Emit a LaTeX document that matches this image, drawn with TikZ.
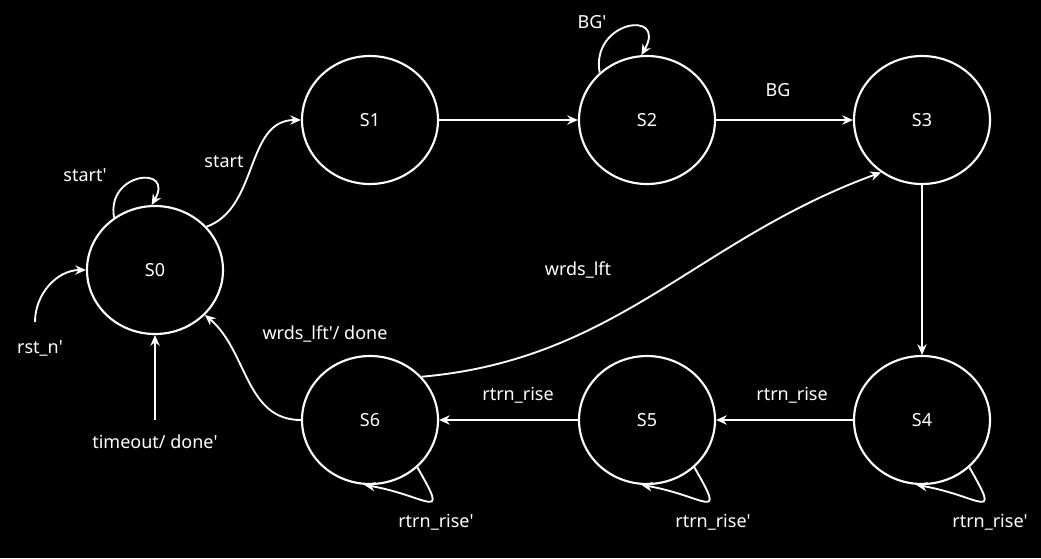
\documentclass[tikz,border=0pt]{standalone}
\usepackage{fontspec}
\setmainfont{Noto Sans}
\usetikzlibrary{arrows.meta,positioning,shapes.geometric}
\newlength{\px}\setlength{\px}{0.75pt}
\newcommand{\q}{\textquotesingle}
\tikzset{
  state/.style={draw=white,line width=1.6pt,ellipse,minimum width=136\px,minimum height=128\px,text=white},
  trans/.style={draw=white,line width=1.4pt,-{Stealth[length=8pt,width=7pt]}},
  lbl/.style={text=white}
}
\begin{document}
\begin{tikzpicture}[x=0.75pt,y=-0.75pt,font=\fontsize{13.5}{16}\selectfont]
\fill[black] (0,0) rectangle (1041,558);
\useasboundingbox (0,0) rectangle (1041,558);
% states
\node[state] (s0) at (155,270) {S0};
\node[state] (s1) at (370,120) {S1};
\node[state] (s2) at (647,120) {S2};
\node[state] (s3) at (922,120) {S3};
\node[state] (s4) at (922,420) {S4};
\node[state] (s5) at (647,420) {S5};
\node[state] (s6) at (370,420) {S6};
% free ends
\coordinate (rst) at (35,322);
\coordinate (tmo) at (155,420);
% transitions
\draw[trans] (s0.40) to[out=20,in=180] (s1.west);
\node[lbl] at (224,162) {start};
\draw[trans] (s0.128) to[out=100,in=60,looseness=3] (s0.93);
\node[lbl] at (85,175) {start\q};
\draw[trans] (rst) to[out=90,in=180] (s0.west);
\node[lbl] at (40,348) {rst\_n\q};
\draw[trans] (tmo) -- (s0.south);
\node[lbl] at (155,442) {timeout/ done\q};
\draw[trans] (s1) -- (s2);
\draw[trans] (s2.135) to[out=100,in=60,looseness=3] (s2.95);
\node[lbl] at (592,22) {BG\q};
\draw[trans] (s2) -- (s3);
\node[lbl] at (778,90) {BG};
\draw[trans] (s3) -- (s4);
\draw[trans] (s4) -- (s5);
\node[lbl] at (792,395) {rtrn\_rise};
\draw[trans] (s5) -- (s6);
\node[lbl] at (518,395) {rtrn\_rise};
\draw[trans] (s6.west) to[out=180,in=-40] (s0.-42);
\node[lbl] at (325,334) {wrds\_lft\q/ done};
\draw[trans] (s6.40) to[out=5,in=-160] (s3.-128);
\node[lbl] at (578,270) {wrds\_lft};
\foreach \s in {s4,s5,s6}
  \draw[trans] (\s.-45) to[out=-60,in=-10,looseness=3] (\s.-95);
\node[lbl] at (990,522) {rtrn\_rise\q};
\node[lbl] at (713,522) {rtrn\_rise\q};
\node[lbl] at (436,522) {rtrn\_rise\q};
\end{tikzpicture}
\end{document}
